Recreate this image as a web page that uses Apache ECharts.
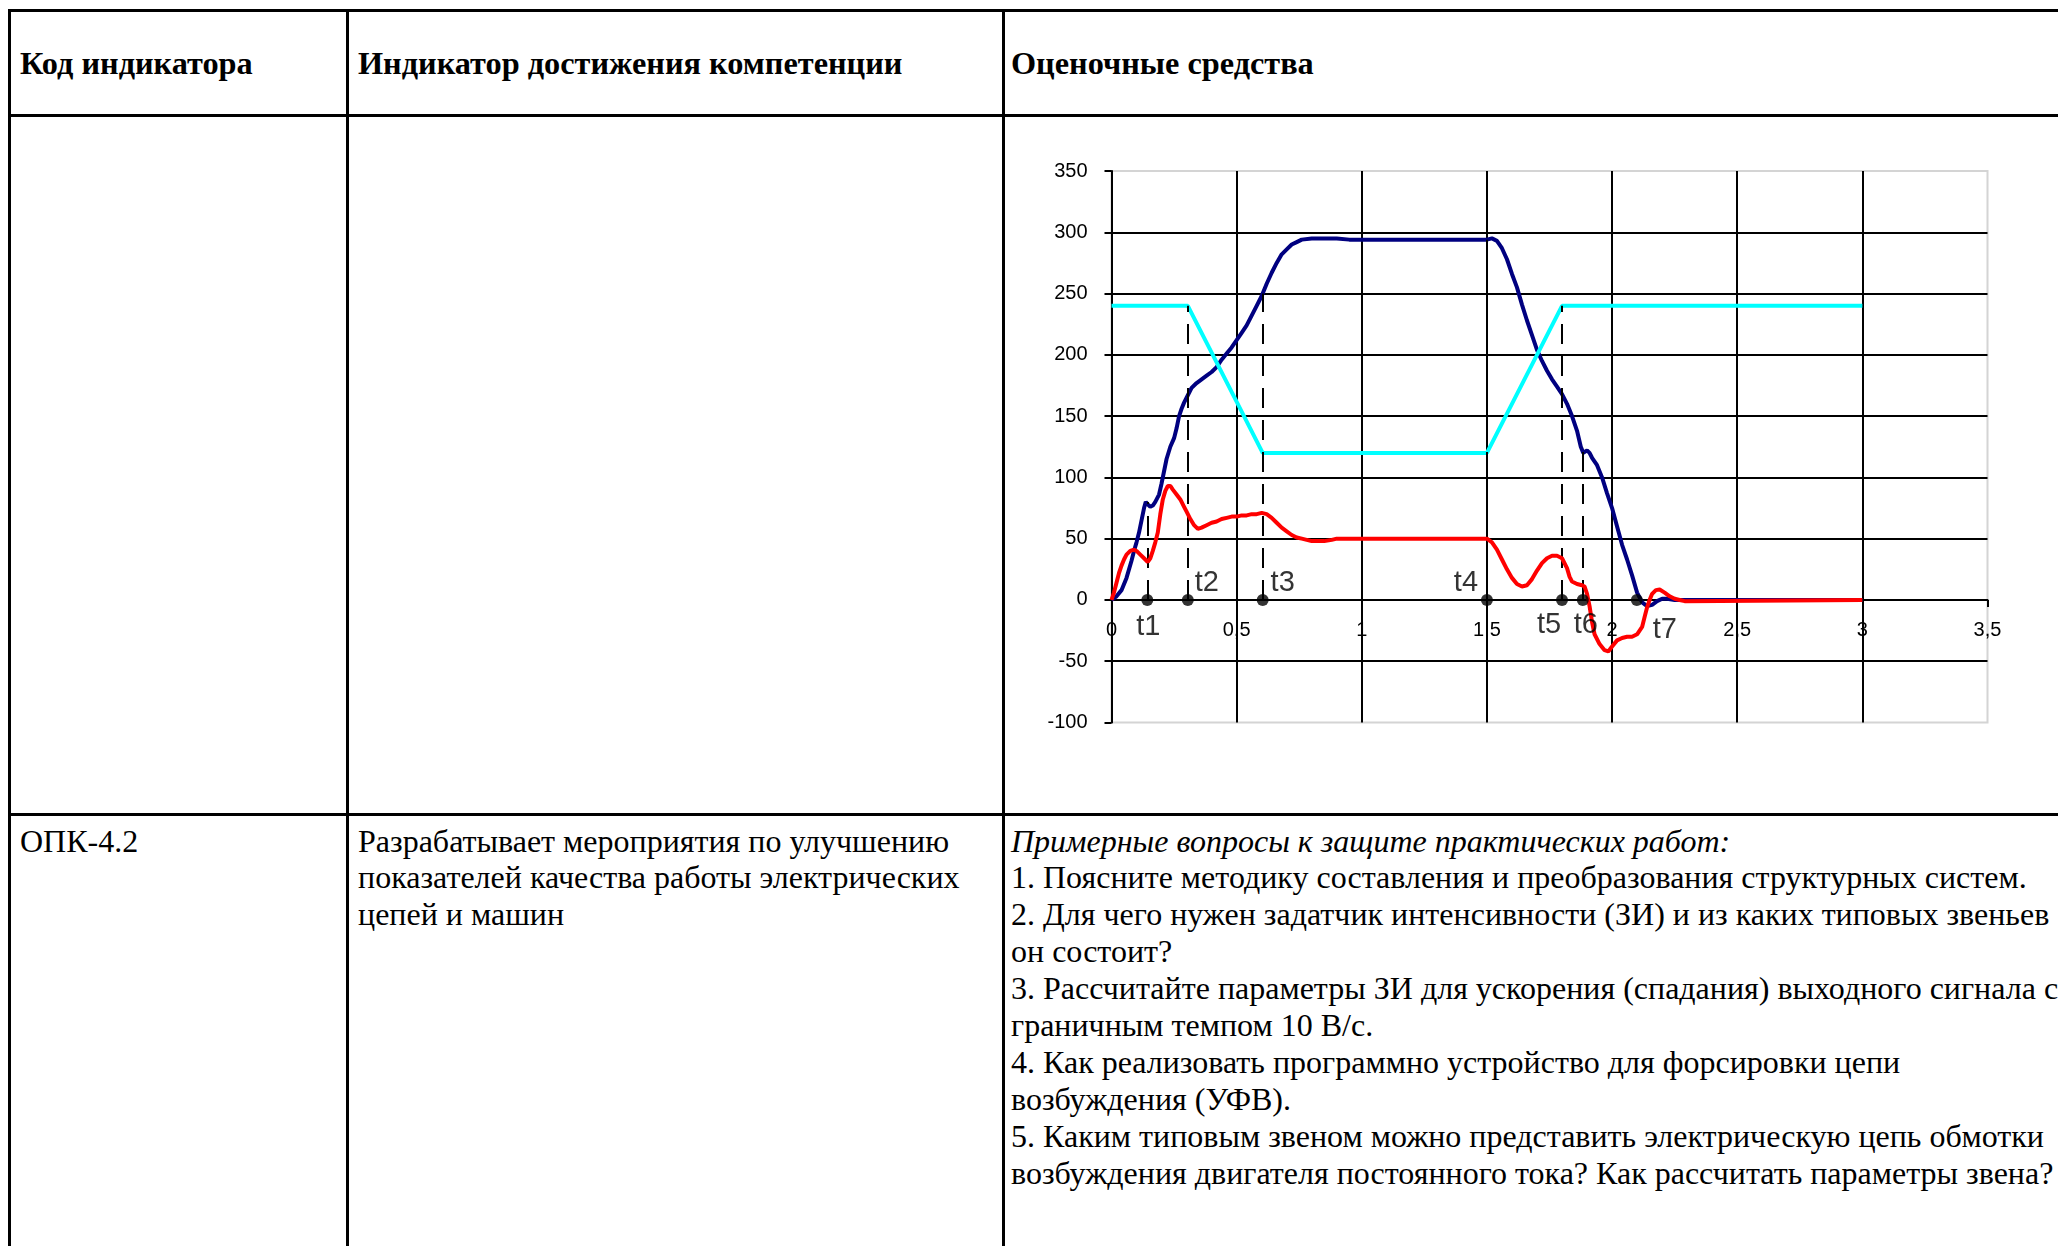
<!DOCTYPE html>
<html><head><meta charset="utf-8">
<script src="https://cdn.jsdelivr.net/npm/echarts@6/dist/echarts.min.js"></script>
<style>
html,body{margin:0;padding:0;width:2058px;height:1246px;overflow:hidden;background:#fff;}
.ln{position:absolute;background:#000;}
.txt{position:absolute;font-family:"Liberation Serif","Times New Roman",serif;font-size:32px;line-height:36.9px;color:#000;white-space:nowrap;}
.b{font-weight:bold;font-size:32.3px;}
.i{font-style:italic;}
#chart{position:absolute;left:0;top:0;width:2058px;height:1246px;z-index:2;}
</style></head><body>
<div id="chart"></div>
<script>
// ---------- table texts ----------
const headerTexts = ['Код индикатора', 'Индикатор достижения компетенции', 'Оценочные средства'];
const codeText = ['ОПК-4.2'];
const indicatorLines = ['Разрабатывает мероприятия по улучшению', 'показателей качества работы электрических', 'цепей и машин'];
const questionTitle = 'Примерные вопросы к защите практических работ:';
const questionLines = [
  '1. Поясните методику составления и преобразования структурных систем.',
  '2. Для чего нужен задатчик интенсивности (ЗИ) и из каких типовых звеньев',
  'он состоит?',
  '3. Рассчитайте параметры ЗИ для ускорения (спадания) выходного сигнала с',
  'граничным темпом 10 В/с.',
  '4. Как реализовать программно устройство для форсировки цепи',
  'возбуждения (УФВ).',
  '5. Каким типовым звеном можно представить электрическую цепь обмотки',
  'возбуждения двигателя постоянного тока? Как рассчитать параметры звена?'
];

// ---------- chart data ----------
const blueT = [0,0.02,0.04,0.06,0.08,0.09,0.10,0.11,0.12,0.13,0.137,0.145,0.155,0.165,0.175,0.19,0.2,0.21,0.22,0.235,0.25,0.26,0.27,0.28,0.29,0.305,0.32,0.34,0.36,0.38,0.40,0.42,0.44,0.46,0.48,0.50,0.52,0.54,0.56,0.58,0.60,0.62,0.64,0.66,0.68,0.70,0.72,0.74,0.76,0.80,0.85,0.90,0.95,1.0,1.2,1.4,1.5,1.52,1.54,1.56,1.58,1.60,1.62,1.64,1.66,1.68,1.70,1.72,1.74,1.76,1.78,1.80,1.82,1.84,1.86,1.875,1.885,1.90,1.91,1.92,1.94,1.96,1.98,2.00,2.02,2.04,2.06,2.08,2.10,2.12,2.14,2.16,2.18,2.20,2.22,2.25,3.0];
const blueV = [0,3,8,18,32,40,47,55,65,75,80,78,76,77,80,86,95,105,115,125,132,140,150,156,161,167,173,177,180,183,186,190,196,201,206,212,218,224,232,240,248,258,267,275,282,286,290,292,294,295,295,295,294,294,294,294,294,295,293,287,278,266,255,241,228,216,204,195,187,180,174,168,160,150,138,125,120,122,120,116,110,100,87,75,60,45,33,20,6,-2,-5,-4,-1,1,1,0,0];

const cyanT = [0, 0.305, 0.604, 1.5, 1.8, 3.0];
const cyanV = [240, 240, 120, 120, 240, 240];

const redT = [0,0.01,0.02,0.03,0.04,0.05,0.06,0.075,0.09,0.10,0.115,0.13,0.145,0.155,0.165,0.175,0.185,0.195,0.205,0.215,0.225,0.235,0.245,0.26,0.275,0.29,0.30,0.315,0.33,0.345,0.36,0.38,0.40,0.42,0.44,0.46,0.48,0.50,0.52,0.54,0.56,0.58,0.60,0.62,0.64,0.66,0.68,0.70,0.72,0.74,0.76,0.78,0.80,0.85,0.88,0.90,1.0,1.2,1.4,1.5,1.52,1.54,1.56,1.58,1.60,1.62,1.64,1.66,1.68,1.70,1.72,1.74,1.76,1.78,1.80,1.82,1.83,1.84,1.86,1.88,1.89,1.90,1.91,1.92,1.93,1.95,1.97,1.985,2.00,2.02,2.04,2.06,2.08,2.10,2.11,2.12,2.13,2.14,2.15,2.16,2.175,2.19,2.21,2.23,2.25,2.27,2.29,3.0];
const redV = [0,6,14,22,28,33,37,40,41,40,37,34,31,34,40,47,55,70,82,89,93,93,90,86,82,76,72,66,61,58,59,61,63,64,66,67,68,68,69,69,70,70,71,70,67,63,59,56,53,51,50,49,48,48,49,50,50,50,50,50,47,41,33,25,18,13,11,12,17,24,30,34,36,36,34,26,19,15,13,12,11,5,-5,-18,-28,-36,-41,-42,-38,-33,-31,-30,-30,-28,-25,-22,-14,-6,0,5,8,8.5,6,3,1,0,-1,0];

const markerNames = ['t1','t2','t3','t4','t5','t6','t7'];
const markerTimes = [0.143, 0.305, 0.604, 1.5, 1.8, 1.883, 2.099];
const dashTops = [80, 240, 250, 294, 240, 130, null];

const yMin = -100, yMax = 350, yStep = 50;
const xMin = 0, xMax = 3.5, xStep = 0.5;

// ---------- table drawing ----------
function addDiv(cls, css, text) {
  const d = document.createElement('div');
  d.className = cls;
  Object.assign(d.style, css);
  if (text !== undefined) d.textContent = text;
  document.body.appendChild(d);
  return d;
}
[[8,9,2100,3],[8,114,2100,3],[8,813,2100,3]].forEach(r => addDiv('ln',{left:r[0]+'px',top:r[1]+'px',width:r[2]+'px',height:r[3]+'px'}));
[[8,9],[346,9],[1002,9]].forEach(r => addDiv('ln',{left:r[0]+'px',top:r[1]+'px',width:'3px',height:'1300px'}));
const colX = [20, 358, 1011];
headerTexts.forEach((t,i) => addDiv('txt b',{left:colX[i]+'px',top:'44.5px'}, t));
const rowTop = 822.5, lh = 36.9;
codeText.forEach((t,i) => addDiv('txt',{left:colX[0]+'px',top:(rowTop+i*lh)+'px'}, t));
indicatorLines.forEach((t,i) => addDiv('txt',{left:colX[1]+'px',top:(rowTop+i*lh)+'px'}, t));
addDiv('txt i',{left:colX[2]+'px',top:rowTop+'px'}, questionTitle);
questionLines.forEach((t,i) => addDiv('txt',{left:colX[2]+'px',top:(rowTop+(i+1)*lh)+'px'}, t));

// ---------- chart ----------
const zip = (a,b) => a.map((v,i) => [v, b[i]]);
const labelOffsets = [[1,27],[19,-17],[20,-17],[-21,-17],[-13,25],[3,25],[28,30]];

const dashData = [];
markerTimes.forEach((t,i) => {
  if (dashTops[i] !== null) dashData.push([{coord:[t,0]},{coord:[t,dashTops[i]]}]);
});

const gridTop = 171, gridHeight = 551.5;
// move x axis (line + labels) to the value 0 of the y scale
const xAxisOffset = -gridHeight * (0 - yMin) / (yMax - yMin);

const chart = echarts.init(document.getElementById('chart'), null, {renderer:'canvas'});
const axisFont = {fontFamily:'"Liberation Sans", Arial, sans-serif', fontSize:20, color:'#000'};
chart.setOption({
  animation:false,
  backgroundColor:'transparent',
  grid:{left:1111.5, top:gridTop, width:876, height:gridHeight, show:true, borderColor:'#d4d4d4', borderWidth:2, backgroundColor:'transparent'},
  xAxis:{
    type:'value', min:xMin, max:xMax, interval:xStep, position:'bottom', offset:xAxisOffset,
    axisLine:{show:true, onZero:false, lineStyle:{color:'#000', width:2}},
    axisTick:{show:true, length:7, lineStyle:{color:'#000', width:2}},
    axisLabel:Object.assign({margin:21, formatter:v => String(v).replace('.', ',')}, axisFont),
    splitLine:{show:true, showMinLine:true, showMaxLine:false, lineStyle:{color:'#000', width:2}}
  },
  yAxis:{
    type:'value', min:yMin, max:yMax, interval:yStep,
    axisLine:{show:true, onZero:false, lineStyle:{color:'#000', width:2}},
    axisTick:{show:true, length:7, lineStyle:{color:'#000', width:2}},
    axisLabel:Object.assign({margin:24}, axisFont),
    splitLine:{show:true, showMinLine:false, showMaxLine:false, lineStyle:{color:'#000', width:2}}
  },
  series:[
    {type:'line', data:zip(blueT,blueV), showSymbol:false, lineStyle:{color:'#000080', width:4}, z:3},
    {type:'line', data:zip(cyanT,cyanV), showSymbol:false, lineStyle:{color:'#00FFFF', width:4}, z:4},
    {type:'line', data:zip(redT,redV), showSymbol:false, lineStyle:{color:'#FF0000', width:4}, z:5},
    {type:'line', data:[], z:6,
      markLine:{silent:true, symbol:['none','none'], label:{show:false},
        lineStyle:{color:'#000', width:2, type:[20,12]}, data:dashData}},
    {type:'scatter', z:7, symbol:'circle', symbolSize:12, itemStyle:{color:'#000'},
      data:markerTimes.map((t,i) => ({value:[t,0], name:markerNames[i],
        label:{show:true, position:'inside', offset:labelOffsets[i], formatter:markerNames[i],
          fontFamily:'"Liberation Sans", Arial, sans-serif', fontSize:29, color:'#000'}}))}
  ]
});
</script>
</body></html>
